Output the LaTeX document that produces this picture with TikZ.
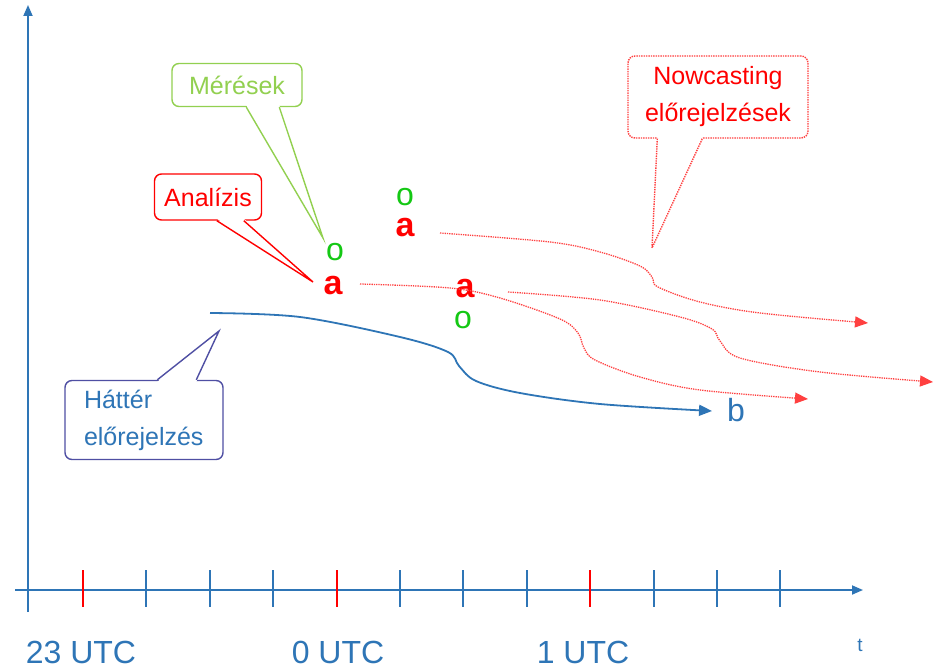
\documentclass[tikz,border=0pt]{standalone}
\usepackage{fontspec}
\setmainfont{Liberation Sans}
\usepackage{tikz}
\usetikzlibrary{arrows.meta}

\definecolor{axisblue}{HTML}{2E75B6}
\definecolor{tickred}{HTML}{FF0000}
\definecolor{flowred}{HTML}{FF4040}
\definecolor{obsgreen}{HTML}{14C814}
\definecolor{meresgreen}{HTML}{92D050}
\definecolor{hatterline}{HTML}{4F4FA3}

\begin{document}
\begin{tikzpicture}[x=1pt, y=-1pt,
  bubble/.style={draw, line width=1.4pt, rounded corners=7pt, fill=white, inner sep=0pt, font=\fontsize{25}{37}\selectfont},
  axis/.style={axisblue, line width=1.8pt, -{Triangle[length=11pt,width=9pt]}},
  flow/.style={flowred, densely dotted, line width=1.3pt, -{Triangle[length=13pt,width=11pt]}},
  ana/.style={text=red, inner sep=0pt, font=\fontsize{34}{34}\selectfont\bfseries},
  obs/.style={text=obsgreen, inner sep=0pt, font=\fontsize{32}{32}\selectfont}]
\useasboundingbox (0,0) rectangle (933,668);

% time axis
\draw[axis] (28,612) -- (28,5);
\draw[axis] (15,590) -- (863,590);
\foreach \i in {1,2,3,5,6,7,9,10,11}
  \draw[axisblue, line width=2pt] ({83+63.4*\i},570) -- ++(0,37);
\foreach \i in {0,4,8}
  \draw[tickred, line width=2pt] ({83+63.4*\i},570) -- ++(0,37);
\node[text=axisblue, font=\fontsize{32}{32}\selectfont] (t23) at (81,652) {23 UTC};
\node[text=axisblue, font=\fontsize{32}{32}\selectfont] (t0) at (338,652) {0 UTC};
\node[text=axisblue, font=\fontsize{32}{32}\selectfont] (t1) at (583,652) {1 UTC};
\node[text=axisblue, font=\fontsize{19}{19}\selectfont] (t) at (860,645) {t};

% analyses and observations
\node[obs] (o1) at (335,252) {o};
\node[ana] (a1) at (333,286) {a};
\node[obs] (o2) at (405,197) {o};
\node[ana] (a2) at (405,228) {a};
\node[ana] (a3) at (465,289) {a};
\node[obs] (o3) at (463,320) {o};
\node[text=axisblue, inner sep=0pt, font=\fontsize{32}{32}\selectfont] (b) at (736,410) {b};

% background forecast
\draw[axisblue, line width=1.8pt, -{Triangle[length=13pt,width=11pt]}]
  plot[smooth, tension=0.55] coordinates {(210,313) (300,317) (400,337) (448,352) (459,366) (476,381) (520,393) (600,404) (712,411)};

% nowcasting forecasts
\draw[flow] plot[smooth, tension=0.55] coordinates {(440,233) (550,242) (600,252) (640,266) (652,277) (658,287) (700,302) (760,313) (868,323)};
\draw[flow] plot[smooth, tension=0.55] coordinates {(360,284) (450,288) (500,298) (560,319) (578,333) (584,348) (595,360) (640,377) (700,390) (808,399)};
\draw[flow] plot[smooth, tension=0.55] coordinates {(508,292) (600,300) (680,317) (712,329) (720,341) (740,358) (820,372) (933,382)};

% callouts
\node[bubble, draw=meresgreen, text=meresgreen, minimum width=130pt, minimum height=43pt] (meres) at (237,85) {Mérések};
\coordinate (meres tip) at (323,238);
\fill[white] ([xshift=75pt,yshift=2pt]meres.south west) -- (meres tip) -- ([xshift=108pt,yshift=2pt]meres.south west) -- cycle;
\draw[meresgreen, line width=1.4pt] ([xshift=75pt]meres.south west) -- (meres tip) -- ([xshift=108pt]meres.south west);

\node[bubble, draw=red, text=red, minimum width=107pt, minimum height=46pt] (analizis) at (208,197) {Analízis};
\coordinate (analizis tip) at (313,282);
\fill[white] ([xshift=63pt,yshift=2pt]analizis.south west) -- (analizis tip) -- ([xshift=90pt,yshift=2pt]analizis.south west) -- cycle;
\draw[red, line width=1.4pt] ([xshift=63pt]analizis.south west) -- (analizis tip) -- ([xshift=90pt]analizis.south west);

\node[bubble, draw=flowred, densely dotted, text=red, align=center, minimum width=180pt, minimum height=82pt] (nowcast) at (718,97) {Nowcasting\\előrejelzések};
\coordinate (nowcast tip) at (652,248);
\fill[white] ([xshift=30pt,yshift=2pt]nowcast.south west) -- (nowcast tip) -- ([xshift=75pt,yshift=2pt]nowcast.south west) -- cycle;
\draw[flowred, densely dotted, line width=1.4pt] ([xshift=30pt]nowcast.south west) -- (nowcast tip) -- ([xshift=75pt]nowcast.south west);

\node[bubble, draw=hatterline, text=axisblue, align=left, text width=120pt, inner xsep=19pt, minimum height=79pt] (hatter) at (144,420) {Háttér\\előrejelzés};
\coordinate (hatter tip) at (219,331);
\fill[white] ([xshift=93pt,yshift=-2pt]hatter.north west) -- (hatter tip) -- ([xshift=132pt,yshift=-2pt]hatter.north west) -- cycle;
\draw[hatterline, line width=1.4pt] ([xshift=93pt]hatter.north west) -- (hatter tip) -- ([xshift=132pt]hatter.north west);
\end{tikzpicture}
\end{document}
